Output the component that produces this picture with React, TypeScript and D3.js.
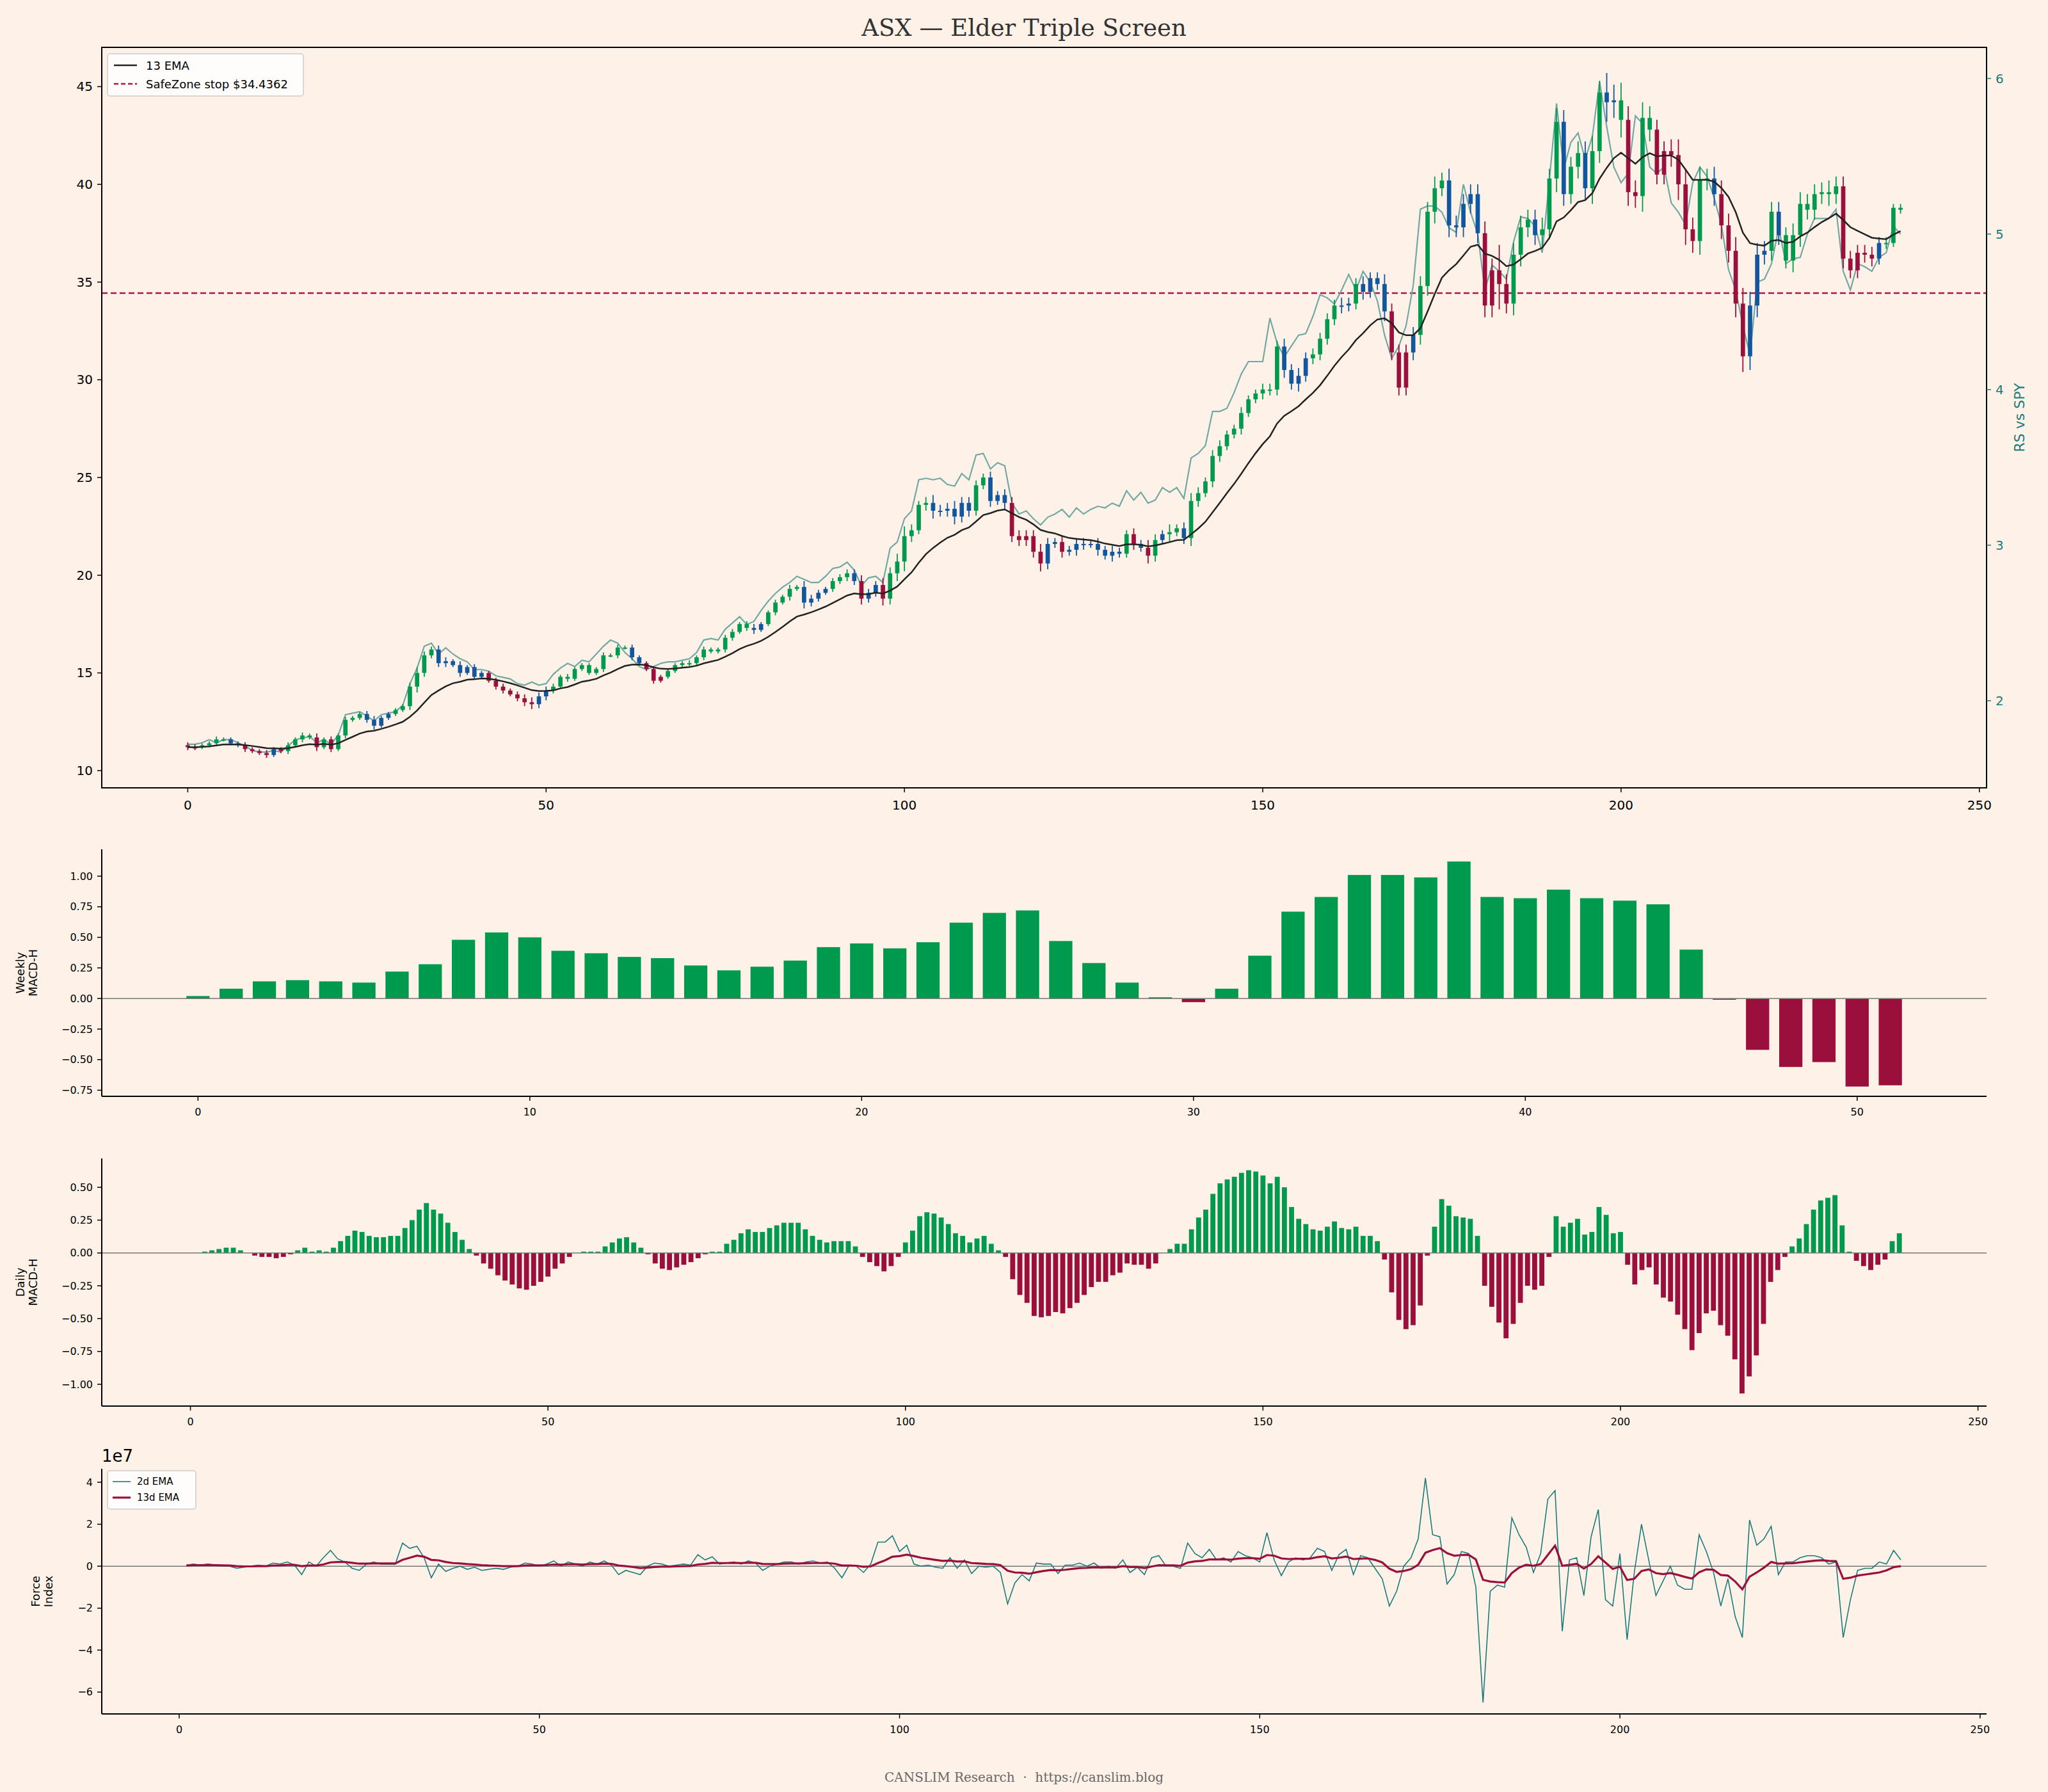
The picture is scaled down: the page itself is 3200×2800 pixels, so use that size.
import React from "react";
import * as d3 from "d3";

// ---- data ----
const closes: number[] = [
  11.2, 11.2, 11.3, 11.4, 11.6, 11.6, 11.4, 11.3, 11.1, 11.0,
  10.9, 10.8, 11.1, 11.0, 11.3, 11.6, 11.8, 11.7, 11.2, 11.6,
  11.1, 11.8, 12.6, 12.7, 12.9, 12.6, 12.3, 12.7, 12.9, 13.1,
  13.3, 14.3, 15.0, 15.9, 16.2, 15.5, 15.6, 15.4, 15.0, 15.3,
  14.8, 15.0, 14.6, 14.3, 14.1, 13.9, 13.7, 13.5, 13.4, 13.8,
  14.1, 14.3, 14.8, 14.7, 15.2, 15.4, 15.0, 15.2, 15.9, 15.9,
  16.3, 16.3, 15.8, 15.5, 15.2, 14.6, 14.8, 15.1, 15.4, 15.5,
  15.5, 15.8, 16.2, 16.1, 16.2, 16.8, 17.1, 17.5, 17.3, 17.2,
  17.5, 18.1, 18.6, 18.9, 19.3, 19.4, 18.6, 18.8, 19.1, 19.3,
  19.7, 19.9, 20.1, 19.7, 18.8, 19.1, 19.5, 18.8, 20.1, 20.7,
  22.0, 22.3, 23.6, 23.7, 23.3, 23.3, 23.4, 23.0, 23.7, 23.3,
  24.6, 25.0, 23.8, 24.1, 23.7, 22.0, 21.8, 22.0, 21.2, 20.6,
  21.6, 21.7, 21.2, 21.3, 21.6, 21.6, 21.6, 21.3, 21.0, 21.2,
  21.1, 22.1, 21.6, 21.4, 21.0, 21.8, 22.1, 22.2, 22.4, 21.9,
  23.8, 24.2, 24.8, 26.1, 26.6, 27.2, 27.5, 28.3, 29.0, 29.3,
  29.5, 29.5, 31.7, 30.5, 29.8, 30.2, 31.1, 31.3, 32.1, 33.1,
  33.8, 33.8, 33.9, 34.9, 34.5, 35.2, 34.9, 33.5, 31.4, 29.6,
  31.4, 32.3, 34.8, 38.6, 39.8, 40.2, 37.9, 37.8, 39.0, 39.5,
  37.5, 33.8, 35.6, 34.9, 33.9, 36.4, 37.8, 38.2, 37.4, 37.7,
  40.3, 43.2, 39.5, 40.9, 41.6, 39.8, 41.7, 44.7, 44.2, 44.3,
  43.3, 39.6, 39.4, 43.4, 42.8, 40.5, 41.7, 41.5, 40.0, 37.7,
  37.1, 40.2, 40.3, 39.5, 37.9, 36.6, 33.9, 31.2, 33.8, 36.4,
  36.6, 38.6, 37.4, 36.1, 37.4, 39.0, 38.7, 39.5, 39.6, 39.5,
  39.9, 36.2, 35.6, 36.5, 36.4, 36.2, 37.0, 37.0, 38.8, 38.7,
];

const wicks: number[] = [
  0.15, 0.15, 0.1, 0.1, 0.15, 0.1, 0.1, 0.1, 0.15, 0.1,
  0.1, 0.15, 0.1, 0.1, 0.15, 0.1, 0.15, 0.1, 0.2, 0.1,
  0.15, 0.1, 0.15, 0.1, 0.1, 0.15, 0.2, 0.1, 0.1, 0.1,
  0.1, 0.2, 0.3, 0.2, 0.15, 0.2, 0.2, 0.1, 0.2, 0.1,
  0.15, 0.1, 0.1, 0.15, 0.15, 0.1, 0.15, 0.2, 0.25, 0.2,
  0.2, 0.15, 0.1, 0.15, 0.1, 0.1, 0.1, 0.1, 0.15, 0.1,
  0.15, 0.1, 0.15, 0.1, 0.1, 0.15, 0.1, 0.1, 0.1, 0.1,
  0.15, 0.1, 0.15, 0.1, 0.1, 0.15, 0.15, 0.1, 0.15, 0.2,
  0.1, 0.1, 0.15, 0.1, 0.2, 0.1, 0.3, 0.2, 0.15, 0.1,
  0.15, 0.15, 0.2, 0.2, 0.3, 0.2, 0.2, 0.35, 0.3, 0.4,
  0.5, 0.3, 0.2, 0.3, 0.4, 0.3, 0.3, 0.4, 0.3, 0.3,
  0.25, 0.2, 0.3, 0.2, 0.3, 0.3, 0.3, 0.3, 0.3, 0.4,
  0.3, 0.2, 0.3, 0.2, 0.3, 0.3, 0.2, 0.3, 0.2, 0.3,
  0.2, 0.2, 0.3, 0.2, 0.4, 0.3, 0.2, 0.4, 0.2, 0.3,
  0.4, 0.3, 0.2, 0.3, 0.3, 0.2, 0.2, 0.3, 0.2, 0.2,
  0.3, 0.3, 0.3, 0.4, 0.3, 0.4, 0.3, 0.3, 0.3, 0.3,
  0.3, 0.4, 0.3, 0.3, 0.4, 0.3, 0.3, 0.5, 0.4, 0.4,
  0.4, 0.4, 0.5, 0.5, 0.6, 0.4, 0.6, 0.5, 0.5, 0.5,
  0.5, 0.6, 0.6, 1.3, 0.5, 0.6, 0.6, 0.5, 0.5, 0.6,
  0.5, 0.7, 0.6, 0.5, 0.6, 0.6, 0.8, 0.6, 1.0, 0.8,
  0.9, 0.7, 0.6, 0.8, 0.6, 0.5, 0.5, 0.6, 0.8, 0.8,
  0.6, 0.7, 0.5, 0.6, 0.7, 0.6, 0.7, 0.8, 0.7, 0.6,
  0.5, 0.5, 0.5, 0.4, 0.6, 0.6, 0.5, 0.5, 0.5, 0.6,
  0.5, 0.5, 0.4, 0.4, 0.4, 0.4, 0.3, 0.3, 0.2, 0.2,
];

// Elder impulse colour: g = green, r = red, b = blue
const impulse =
  "rrggggbbrr" + "rrbrggggrg" + "rggggbbbbg" + "gggggbbbbb" + "bbrrrrrrrb" +
  "bggggggggg" + "ggbbrrrggg" + "gggggggggb" + "bgggggbbbb" + "gggbrbbrgg" +
  "ggggbbbbbb" + "ggbbbrrrrr" + "bbrbbbbbbb" + "bgrbrgbggb" + "gggggggggg" +
  "gggbbbbggg" + "gbbgbbbbrr" + "rbggggbbbb" + "brrrrgggbg" + "ggbggbggbb" +
  "grrggrrrrr" + "rggbrrrrbb" + "bgbggggggg" + "grrrrrbggg";

const rsVsSpy: number[] = [
  1.72, 1.72, 1.73, 1.75, 1.73, 1.75, 1.75, 1.73, 1.71, 1.68,
  1.67, 1.67, 1.68, 1.67, 1.71, 1.75, 1.76, 1.77, 1.73, 1.75,
  1.72, 1.78, 1.91, 1.92, 1.93, 1.90, 1.87, 1.91, 1.92, 1.93,
  1.97, 2.11, 2.21, 2.35, 2.37, 2.30, 2.34, 2.30, 2.27, 2.25,
  2.20, 2.20, 2.19, 2.16, 2.15, 2.14, 2.11, 2.10, 2.12, 2.10,
  2.11, 2.17, 2.21, 2.24, 2.22, 2.26, 2.25, 2.30, 2.35, 2.39,
  2.37, 2.31, 2.27, 2.22, 2.20, 2.22, 2.24, 2.25, 2.25, 2.26,
  2.27, 2.31, 2.39, 2.40, 2.39, 2.46, 2.50, 2.54, 2.49, 2.51,
  2.58, 2.64, 2.69, 2.73, 2.76, 2.80, 2.78, 2.76, 2.76, 2.80,
  2.85, 2.86, 2.89, 2.84, 2.74, 2.79, 2.80, 2.76, 2.98, 3.02,
  3.17, 3.22, 3.42, 3.43, 3.42, 3.43, 3.39, 3.38, 3.46, 3.42,
  3.58, 3.59, 3.49, 3.53, 3.51, 3.27, 3.20, 3.22, 3.17, 3.13,
  3.18, 3.20, 3.23, 3.18, 3.24, 3.20, 3.23, 3.25, 3.24, 3.27,
  3.25, 3.35, 3.29, 3.34, 3.27, 3.29, 3.37, 3.34, 3.37, 3.30,
  3.56, 3.59, 3.64, 3.86, 3.86, 3.88, 3.98, 4.10, 4.18, 4.18,
  4.18, 4.46, 4.30, 4.21, 4.28, 4.35, 4.36, 4.47, 4.61, 4.59,
  4.55, 4.64, 4.74, 4.64, 4.76, 4.69, 4.57, 4.35, 4.20, 4.28,
  4.41, 4.67, 5.16, 5.18, 5.18, 5.14, 5.04, 5.01, 5.32, 5.14,
  5.00, 4.64, 4.80, 4.76, 4.71, 4.95, 5.11, 5.10, 5.05, 4.88,
  5.35, 5.84, 5.42, 5.59, 5.65, 5.48, 5.63, 5.98, 5.69, 5.43,
  5.33, 5.39, 5.76, 5.71, 5.43, 5.39, 5.43, 5.20, 5.14, 5.06,
  5.33, 5.43, 5.37, 5.23, 5.06, 4.77, 4.64, 4.41, 4.22, 4.69,
  4.71, 4.81, 5.04, 4.81, 4.84, 4.85, 5.00, 5.10, 5.10, 5.10,
  5.16, 4.76, 4.64, 4.81, 4.79, 4.76, 4.85, 4.88, 5.05, 5.00,
];

const safeZoneStop = 34.4362;

const weeklyHist: number[] = [
  0.02, 0.08, 0.14, 0.15, 0.14, 0.13, 0.22, 0.28, 0.48, 0.54,
  0.50, 0.39, 0.37, 0.34, 0.33, 0.27, 0.23, 0.26, 0.31, 0.42,
  0.45, 0.41, 0.46, 0.62, 0.70, 0.72, 0.47, 0.29, 0.13, 0.01,
  -0.03, 0.08, 0.35, 0.71, 0.83, 1.01, 1.01, 0.99, 1.12, 0.83,
  0.82, 0.89, 0.82, 0.80, 0.77, 0.40, -0.01, -0.42, -0.56, -0.52,
  -0.72, -0.71,
];

const dailyHist: number[] = [
  0.0, 0.0, 0.01, 0.02, 0.03, 0.04, 0.04, 0.02, 0.0, -0.02,
  -0.03, -0.03, -0.04, -0.03, -0.01, 0.02, 0.04, 0.01, 0.02, 0.01,
  0.04, 0.09, 0.13, 0.17, 0.16, 0.13, 0.12, 0.12, 0.13, 0.13,
  0.19, 0.25, 0.33, 0.38, 0.33, 0.30, 0.23, 0.16, 0.10, 0.03,
  -0.02, -0.08, -0.12, -0.17, -0.21, -0.24, -0.27, -0.28, -0.25, -0.22,
  -0.18, -0.12, -0.08, -0.03, 0.0, 0.01, 0.01, 0.01, 0.05, 0.08,
  0.11, 0.12, 0.08, 0.04, -0.01, -0.08, -0.12, -0.13, -0.11, -0.09,
  -0.07, -0.04, -0.01, 0.01, 0.01, 0.07, 0.10, 0.15, 0.18, 0.16,
  0.16, 0.19, 0.21, 0.23, 0.23, 0.23, 0.18, 0.13, 0.10, 0.08,
  0.09, 0.09, 0.09, 0.05, -0.03, -0.07, -0.10, -0.14, -0.10, -0.03,
  0.08, 0.17, 0.28, 0.31, 0.30, 0.27, 0.22, 0.15, 0.13, 0.08,
  0.11, 0.13, 0.07, 0.02, -0.03, -0.20, -0.32, -0.38, -0.48, -0.49,
  -0.48, -0.45, -0.46, -0.42, -0.38, -0.32, -0.26, -0.22, -0.22, -0.17,
  -0.15, -0.08, -0.09, -0.09, -0.12, -0.08, 0.0, 0.03, 0.07, 0.07,
  0.18, 0.27, 0.33, 0.45, 0.53, 0.56, 0.58, 0.61, 0.63, 0.62,
  0.59, 0.53, 0.58, 0.50, 0.35, 0.26, 0.22, 0.18, 0.17, 0.20,
  0.24, 0.19, 0.18, 0.20, 0.13, 0.13, 0.09, -0.05, -0.30, -0.51,
  -0.58, -0.55, -0.40, -0.02, 0.20, 0.41, 0.36, 0.28, 0.27, 0.26,
  0.13, -0.25, -0.41, -0.53, -0.65, -0.54, -0.38, -0.25, -0.28, -0.25,
  -0.03, 0.28, 0.20, 0.23, 0.26, 0.14, 0.16, 0.35, 0.29, 0.15,
  0.16, -0.09, -0.24, -0.13, -0.11, -0.24, -0.34, -0.37, -0.47, -0.58,
  -0.74, -0.61, -0.46, -0.44, -0.55, -0.63, -0.81, -1.07, -0.94, -0.78,
  -0.54, -0.22, -0.13, -0.03, 0.05, 0.11, 0.22, 0.33, 0.40, 0.42,
  0.44, 0.21, 0.01, -0.06, -0.10, -0.13, -0.09, -0.05, 0.09, 0.15,
];

// force index, units of 1e7, starting at day 1
const force2: number[] = [
  0.05, 0.1, 0.05, 0.1, 0.05, 0.0, 0.0, -0.1, -0.05, 0.0,
  0.05, 0.0, 0.15, 0.1, 0.2, 0.05, -0.4, 0.2, 0.0, 0.4,
  0.75, 0.35, 0.2, -0.1, -0.2, 0.1, 0.2, 0.1, 0.1, 0.1,
  1.1, 0.85, 0.95, 0.4, -0.55, 0.1, -0.25, -0.1, 0.0, -0.15,
  -0.05, -0.2, -0.15, -0.1, -0.15, -0.05, 0.0, 0.15, 0.1, 0.0,
  0.1, 0.25, 0.0, 0.2, 0.1, 0.0, 0.2, 0.1, 0.25, 0.05,
  -0.4, -0.2, -0.3, -0.4, 0.0, 0.15, 0.1, 0.0, 0.05, 0.1,
  0.05, 0.55, 0.3, 0.45, 0.1, 0.15, 0.2, 0.1, 0.25, 0.15,
  -0.2, 0.0, 0.1, 0.2, 0.2, 0.1, 0.2, 0.25, 0.15, 0.2,
  -0.1, -0.55, 0.05, 0.0, -0.3, 0.1, 1.15, 1.15, 1.45,
  0.7, 1.0, 0.1, 0.0, 0.05, -0.05, -0.1, 0.4, -0.1, 0.3,
  -0.35, 0.0, -0.05, 0.0, -0.3, -1.8, -0.8, -0.4, -0.7, 0.15,
  0.1, 0.1, -0.35, 0.05, 0.05, 0.15, 0.0, 0.15, -0.1, 0.0,
  -0.1, 0.3, -0.3, -0.05, -0.4, 0.4, 0.5, 0.0, 0.0, -0.1,
  1.1, 0.6, 0.4, 0.8, 0.3, 0.4, 0.2, 0.7, 0.5, 0.4,
  0.2, 1.6, 0.3, -0.45, 0.2, 0.4, 0.3, 0.4, 0.85, 0.7,
  -0.2, 0.55, 0.8, -0.4, 0.5, 0.4, -0.1, -0.6, -1.9, -1.2,
  0.0, 0.4, 1.3, 4.2, 1.5, 1.4, -0.85, -0.4, 0.7, 0.6,
  -1.0, -6.5, -1.2, -0.9, -1.0, 2.3, 1.5, 0.9, -0.3, 0.6,
  3.2, 3.6, -3.1, 0.3, 0.4, -1.4, 1.4, 2.7, -1.6, -1.9,
  0.6, -3.5, -0.3, 2.0, 0.3, -1.4, -0.7, 0.0, -0.9, -1.1,
  -1.1, 1.5, 0.7, -0.3, -1.9, -0.6, -2.4, -3.4, 2.2, 1.0,
  1.3, 1.9, -0.4, 0.2, 0.2, 0.4, 0.5, 0.5, 0.4, 0.1,
  0.2, -3.4, -1.6, -0.2, -0.1, -0.1, 0.2, 0.1, 0.75, 0.3,
];

const force13: number[] = [
  0.03, 0.05, 0.05, 0.06, 0.05, 0.04, 0.03, 0.0, -0.01, -0.01,
  0.0, 0.0, 0.03, 0.04, 0.06, 0.06, 0.0, 0.03, 0.03, 0.08,
  0.18, 0.2, 0.2, 0.16, 0.12, 0.12, 0.13, 0.13, 0.13, 0.13,
  0.3, 0.4, 0.5, 0.45, 0.3, 0.28, 0.2, 0.15, 0.13, 0.1,
  0.08, 0.05, 0.03, 0.02, 0.0, 0.0, 0.0, 0.03, 0.04, 0.04,
  0.05, 0.08, 0.07, 0.09, 0.09, 0.08, 0.1, 0.1, 0.12, 0.11,
  0.03, 0.0, -0.04, -0.09, -0.07, -0.04, -0.02, -0.02, -0.01, 0.0,
  0.01, 0.08, 0.11, 0.16, 0.15, 0.15, 0.16, 0.15, 0.16, 0.16,
  0.11, 0.1, 0.1, 0.12, 0.13, 0.13, 0.14, 0.15, 0.15, 0.15,
  0.12, 0.03, 0.03, 0.02, -0.03, -0.01, 0.15, 0.28, 0.45,
  0.48, 0.55, 0.48, 0.4, 0.35, 0.3, 0.25, 0.27, 0.22, 0.23,
  0.15, 0.13, 0.11, 0.1, 0.05, -0.22, -0.3, -0.31, -0.36, -0.29,
  -0.23, -0.18, -0.2, -0.17, -0.13, -0.09, -0.08, -0.05, -0.06, -0.05,
  -0.06, 0.0, -0.04, -0.04, -0.09, -0.02, 0.05, 0.04, 0.04, 0.02,
  0.17, 0.23, 0.25, 0.32, 0.32, 0.33, 0.31, 0.36, 0.38, 0.38,
  0.35, 0.53, 0.5, 0.37, 0.34, 0.35, 0.35, 0.36, 0.43, 0.47,
  0.37, 0.4, 0.46, 0.34, 0.36, 0.37, 0.3, 0.18, -0.12, -0.27,
  -0.23, -0.14, 0.07, 0.64, 0.77, 0.86, 0.62, 0.5, 0.53, 0.54,
  0.32, -0.65, -0.73, -0.76, -0.78, -0.33, -0.07, 0.07, 0.02, 0.1,
  0.54, 0.98, 0.02, 0.06, 0.11, -0.11, 0.1, 0.47, 0.17, -0.13,
  -0.02, -0.66, -0.6, -0.23, -0.15, -0.33, -0.38, -0.33, -0.41, -0.51,
  -0.59, -0.29, -0.15, -0.17, -0.42, -0.45, -0.73, -1.1, -0.5, -0.3,
  -0.07, 0.2, 0.12, 0.13, 0.14, 0.18, 0.22, 0.26, 0.28, 0.25,
  0.24, -0.6, -0.55, -0.45, -0.4, -0.35, -0.3, -0.2, -0.05, 0.0,
];

const priceTicks = [10, 15, 20, 25, 30, 35, 40, 45];
const rsTicks = [2, 3, 4, 5, 6];
const dayTicks = [0, 50, 100, 150, 200, 250];
const weekTicks = [0, 10, 20, 30, 40, 50];
const weeklyTicks = [-0.75, -0.5, -0.25, 0, 0.25, 0.5, 0.75, 1.0];
const dailyTicks = [-1.0, -0.75, -0.5, -0.25, 0, 0.25, 0.5];
const forceTicks = [-6, -4, -2, 0, 2, 4];

// ---- styling ----
const BG = "#fef2e8";
const GREEN = "#009a4e";
const RED = "#9b0f3c";
const BLUE = "#12569e";
const TEAL = "#1a7a7c";
const RS_LINE = "#72a8a4";
const SANS = "DejaVu Sans, sans-serif";
const SERIF = "DejaVu Serif, serif";
const minus = (s: string) => s.replace("-", "\u2212");
const impulseColor: Record<string, string> = { g: GREEN, r: RED, b: BLUE };

const L = 159;
const R = 3104;

function ema(values: number[], span: number): number[] {
  const k = 2 / (span + 1);
  const out: number[] = [];
  values.forEach((v, i) => out.push(i === 0 ? v : v * k + out[i - 1] * (1 - k)));
  return out;
}

function XAxis({ x, y, ticks, size }: { x: d3.ScaleLinear<number, number>; y: number; ticks: number[]; size: number }) {
  return (
    <g>
      <line x1={L} x2={R} y1={y} y2={y} stroke="#000" strokeWidth={2} />
      {ticks.map((t) => (
        <g key={t}>
          <line x1={x(t)} x2={x(t)} y1={y} y2={y + 7} stroke="#000" strokeWidth={1.5} />
          <text x={x(t)} y={y + 14 + size} fontSize={size} textAnchor="middle" fontFamily={SANS}>{t}</text>
        </g>
      ))}
    </g>
  );
}

function YAxis({ y, ticks, size, fmt, top, bottom }: { y: d3.ScaleLinear<number, number>; ticks: number[]; size: number; fmt: (v: number) => string; top: number; bottom: number }) {
  return (
    <g>
      <line x1={L} x2={L} y1={top} y2={bottom} stroke="#000" strokeWidth={2} />
      {ticks.map((t) => (
        <g key={t}>
          <line x1={L - 7} x2={L} y1={y(t)} y2={y(t)} stroke="#000" strokeWidth={1.5} />
          <text x={L - 14} y={y(t)} dy="0.35em" fontSize={size} textAnchor="end" fontFamily={SANS}>{minus(fmt(t))}</text>
        </g>
      ))}
    </g>
  );
}

function SideLabel({ lines, x, y }: { lines: string[]; x: number; y: number }) {
  return (
    <text transform={`translate(${x},${y}) rotate(-90)`} fontSize={18} fontFamily={SANS} textAnchor="middle">
      {lines.map((l, i) => (
        <tspan key={l} x={0} dy={i === 0 ? `${-(lines.length - 1) * 0.55}em` : "1.1em"}>{l}</tspan>
      ))}
    </text>
  );
}

export default function App() {
  const opens = closes.map((c, i) => (i === 0 ? 11.3 : closes[i - 1]));
  const ema13 = ema(closes, 13);

  // price panel
  const pTop = 74, pBot = 1231;
  const xP = d3.scaleLinear().domain([-12, 251]).range([L, R]);
  const yP = d3.scaleLinear().domain([9.12, 47.01]).range([pBot, pTop]);
  const yRS = d3.scaleLinear().domain([1.44, 6.2]).range([pBot, pTop]);
  const emaPath = d3.line<number>().x((_, i) => xP(i)).y((v) => yP(v))(ema13) || "";
  const rsPath = d3.line<number>().x((_, i) => xP(i)).y((v) => yRS(v))(rsVsSpy) || "";
  const cw = (xP(1) - xP(0)) * 0.6;

  // weekly panel
  const wTop = 1327, wBot = 1713;
  const xW = d3.scaleLinear().domain([-2.9, 53.9]).range([L, R]);
  const yW = d3.scaleLinear().domain([-0.8, 1.22]).range([wBot, wTop]);
  const wbw = (xW(1) - xW(0)) * 0.7;

  // daily panel
  const dTop = 1810, dBot = 2197;
  const xD = d3.scaleLinear().domain([-12.4, 251.2]).range([L, R]);
  const yD = d3.scaleLinear().domain([-1.166, 0.72]).range([dBot, dTop]);
  const dbw = (xD(1) - xD(0)) * 0.7;

  // force panel
  const fTop = 2295, fBot = 2678;
  const xF = d3.scaleLinear().domain([-10.75, 250.9]).range([L, R]);
  const yF = d3.scaleLinear().domain([-7.04, 4.64]).range([fBot, fTop]);
  const f2Path = d3.line<number>().x((_, i) => xF(i + 1)).y((v) => yF(v))(force2) || "";
  const f13Path = d3.line<number>().x((_, i) => xF(i + 1)).y((v) => yF(v))(force13) || "";

  const f2 = (v: number) => v.toFixed(2);

  return (
    <svg width={3200} height={2800} style={{ position: "absolute", left: 0, top: 0, background: BG }}>
      <rect width={3200} height={2800} fill={BG} />
      <text x={1600} y={56} fontSize={37} fontFamily={SERIF} textAnchor="middle" fill="#333">ASX — Elder Triple Screen</text>

      {/* price panel */}
      <line x1={L} x2={R} y1={yP(safeZoneStop)} y2={yP(safeZoneStop)} stroke="#b0124a" strokeWidth={2.5} strokeDasharray="9,5" />
      <path d={rsPath} fill="none" stroke={RS_LINE} strokeWidth={2.2} />
      {closes.map((c, i) => {
        const o = opens[i];
        const hi = Math.max(o, c) + wicks[i];
        const lo = Math.min(o, c) - wicks[i];
        const col = impulseColor[impulse[i]];
        const top = yP(Math.max(o, c));
        const h = Math.max(2, Math.abs(yP(o) - yP(c)));
        return (
          <g key={i}>
            <line x1={xP(i)} x2={xP(i)} y1={yP(hi)} y2={yP(lo)} stroke={col} strokeWidth={1.8} />
            <rect x={xP(i) - cw / 2} y={top} width={cw} height={h} fill={col} />
          </g>
        );
      })}
      <path d={emaPath} fill="none" stroke="#222" strokeWidth={2.5} />
      <rect x={L} y={pTop} width={R - L} height={pBot - pTop} fill="none" stroke="#000" strokeWidth={2} />
      <XAxis x={xP} y={pBot} ticks={dayTicks} size={20} />
      <YAxis y={yP} ticks={priceTicks} size={20} fmt={(v) => String(v)} top={pTop} bottom={pBot} />
      {rsTicks.map((t) => (
        <g key={t}>
          <line x1={R} x2={R + 7} y1={yRS(t)} y2={yRS(t)} stroke={TEAL} strokeWidth={1.5} />
          <text x={R + 14} y={yRS(t)} dy="0.35em" fontSize={20} fontFamily={SANS} fill={TEAL}>{t}</text>
        </g>
      ))}
      <text transform={`translate(${3163},${(pTop + pBot) / 2}) rotate(-90)`} fontSize={22} fontFamily={SANS} fill={TEAL} textAnchor="middle">RS vs SPY</text>
      <g transform="translate(168,84)">
        <rect width={306} height={66} rx={4} fill="#fff" fillOpacity={0.85} stroke="#ccc" strokeWidth={1.5} />
        <line x1={10} x2={46} y1={18} y2={18} stroke="#222" strokeWidth={2.5} />
        <text x={60} y={25} fontSize={18} fontFamily={SANS}>13 EMA</text>
        <line x1={10} x2={46} y1={47} y2={47} stroke="#b0124a" strokeWidth={2.5} strokeDasharray="7,4" />
        <text x={60} y={54} fontSize={18} fontFamily={SANS}>SafeZone stop $34.4362</text>
      </g>

      {/* weekly MACD histogram */}
      {weeklyHist.map((v, i) => (
        <rect key={i} x={xW(i) - wbw / 2} y={Math.min(yW(v), yW(0))} width={wbw} height={Math.abs(yW(v) - yW(0))} fill={v >= 0 ? GREEN : RED} />
      ))}
      <line x1={L} x2={R} y1={yW(0)} y2={yW(0)} stroke="#777" strokeWidth={1.5} />
      <XAxis x={xW} y={wBot} ticks={weekTicks} size={16} />
      <YAxis y={yW} ticks={weeklyTicks} size={16} fmt={f2} top={wTop} bottom={wBot} />
      <SideLabel lines={["Weekly", "MACD-H"]} x={48} y={(wTop + wBot) / 2} />

      {/* daily MACD histogram */}
      {dailyHist.map((v, i) => (
        <rect key={i} x={xD(i) - dbw / 2} y={Math.min(yD(v), yD(0))} width={dbw} height={Math.abs(yD(v) - yD(0))} fill={v >= 0 ? GREEN : RED} />
      ))}
      <line x1={L} x2={R} y1={yD(0)} y2={yD(0)} stroke="#777" strokeWidth={1.5} />
      <XAxis x={xD} y={dBot} ticks={dayTicks} size={16} />
      <YAxis y={yD} ticks={dailyTicks} size={16} fmt={f2} top={dTop} bottom={dBot} />
      <SideLabel lines={["Daily", "MACD-H"]} x={48} y={(dTop + dBot) / 2} />

      {/* force index */}
      <line x1={L} x2={R} y1={yF(0)} y2={yF(0)} stroke="#777" strokeWidth={1.5} />
      <path d={f2Path} fill="none" stroke={TEAL} strokeWidth={1.6} />
      <path d={f13Path} fill="none" stroke={RED} strokeWidth={3.2} />
      <XAxis x={xF} y={fBot} ticks={dayTicks} size={16} />
      <YAxis y={yF} ticks={forceTicks} size={16} fmt={(v) => String(v)} top={fTop} bottom={fBot} />
      <text x={L} y={2284} fontSize={26} fontFamily={SANS}>1e7</text>
      <SideLabel lines={["Force", "Index"]} x={72} y={(fTop + fBot) / 2} />
      <g transform="translate(168,2298)">
        <rect width={138} height={60} rx={4} fill="#fff" fillOpacity={0.85} stroke="#ccc" strokeWidth={1.5} />
        <line x1={8} x2={36} y1={17} y2={17} stroke={TEAL} strokeWidth={1.6} />
        <text x={46} y={22} fontSize={15} fontFamily={SANS}>2d EMA</text>
        <line x1={8} x2={36} y1={42} y2={42} stroke={RED} strokeWidth={3.2} />
        <text x={46} y={47} fontSize={15} fontFamily={SANS}>13d EMA</text>
      </g>

      <text x={1600} y={2784} fontSize={20} fontFamily={SERIF} textAnchor="middle" fill="#666" style={{ whiteSpace: "pre" }}>{"CANSLIM Research  ·  https://canslim.blog"}</text>
    </svg>
  );
}
